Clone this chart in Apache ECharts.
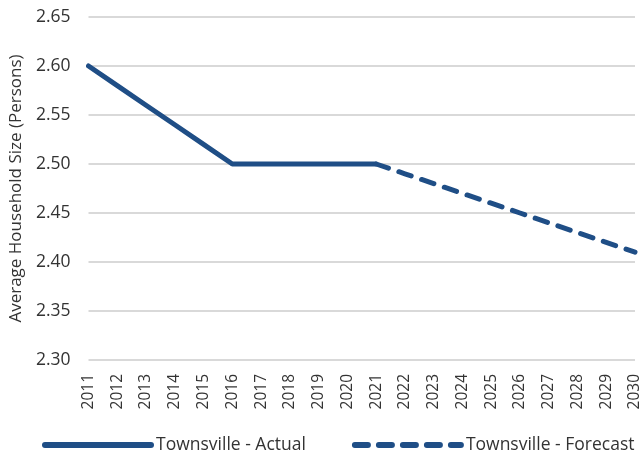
<!DOCTYPE html>
<html>
<head>
<meta charset="utf-8">
<script src="https://cdn.jsdelivr.net/npm/echarts@6/dist/echarts.min.js"></script>
<style>html,body{margin:0;padding:0;background:#fff}#c{width:643px;height:458px}</style>
</head>
<body>
<div id="c"></div>
<script>
const years = ['2011','2012','2013','2014','2015','2016','2017','2018','2019','2020','2021','2022','2023','2024','2025','2026','2027','2028','2029','2030'];
const actual = [2.60,2.58,2.56,2.54,2.52,2.50,2.50,2.50,2.50,2.50,2.50,null,null,null,null,null,null,null,null,null];
const forecast = [null,null,null,null,null,null,null,null,null,null,2.50,2.49,2.48,2.47,2.46,2.45,2.44,2.43,2.42,2.41];
const yTicks = {min:2.30, max:2.65, interval:0.05};
const color = '#1f4e86';
const font = '"Open Sans", sans-serif';
const chart = echarts.init(document.getElementById('c'));
chart.setOption({
  animation:false,
  textStyle:{fontFamily:font},
  grid:{left:86,right:7,top:17,bottom:98},
  legend:{
    top:436,left:42,width:601,padding:0,itemWidth:106,itemHeight:14,itemGap:46,
    itemStyle:{opacity:0},
    lineStyle:{width:6},
    textStyle:{fontSize:17.5,color:'#333',fontFamily:font},
    data:[{name:'Townsville - Actual'},{name:'Townsville - Forecast'}]
  },
  xAxis:{
    type:'category',data:years,boundaryGap:false,
    axisLine:{show:false},axisTick:{show:false},
    axisLabel:{rotate:90,fontSize:15.5,color:'#333',margin:14,interval:0}
  },
  yAxis:{
    type:'value',min:yTicks.min,max:yTicks.max,interval:yTicks.interval,
    name:'Average Household Size (Persons)',nameLocation:'middle',nameGap:62,
    nameTextStyle:{fontSize:17,color:'#333'},
    axisLabel:{formatter:v=>v.toFixed(2),fontSize:17.5,color:'#333',margin:18},
    splitLine:{lineStyle:{color:'#d9d9d9',width:2}}
  },
  series:[
    {name:'Townsville - Actual',type:'line',data:actual,symbol:'none',
     lineStyle:{color:color,width:5,cap:'round',join:'round'},itemStyle:{color:color}},
    {name:'Townsville - Forecast',type:'line',data:forecast,symbol:'none',
     lineStyle:{color:color,width:5,type:[13,11],cap:'round'},itemStyle:{color:color}}
  ]
});
</script>
</body>
</html>
